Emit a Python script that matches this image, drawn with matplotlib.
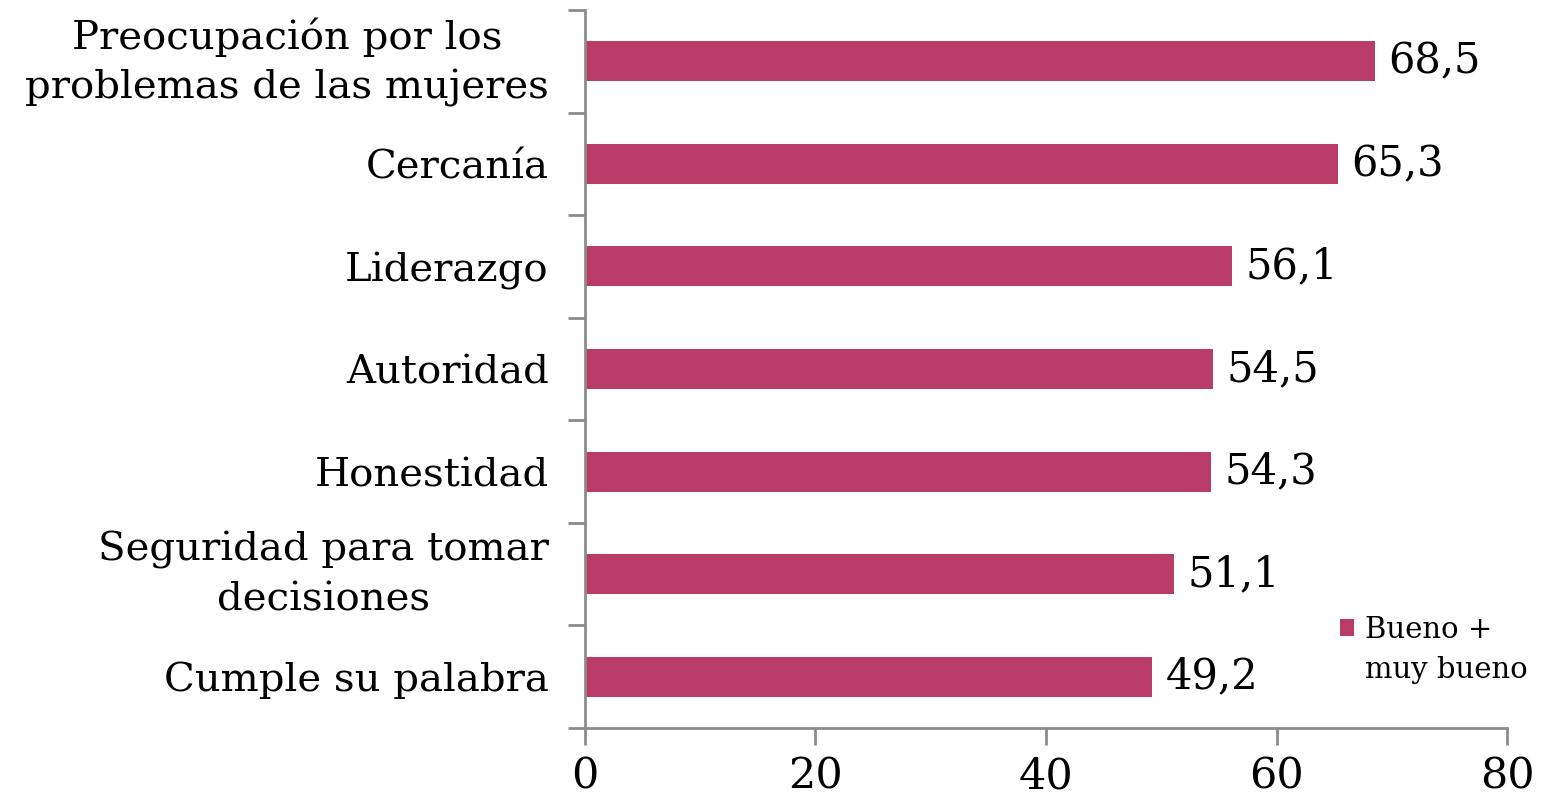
import matplotlib.pyplot as plt
import numpy as np
from matplotlib.patches import Rectangle
from matplotlib.container import BarContainer
from matplotlib.legend_handler import HandlerPatch, update_from_first_child
from matplotlib.transforms import ScaledTranslation

categorias = [
    "Preocupación por los\nproblemas de las mujeres",
    "Cercanía",
    "Liderazgo",
    "Autoridad",
    "Honestidad",
    "Seguridad para tomar\ndecisiones",
    "Cumple su palabra",
]
valores = [68.5, 65.3, 56.1, 54.5, 54.3, 51.1, 49.2]
serie = "Bueno +\nmuy bueno"

COLOR = "#B83C67"
GRIS = "#8C8C8C"

plt.rcParams["font.family"] = ["DejaVu Serif"]

fig = plt.figure(figsize=(15.54, 7.96), dpi=100)
ax = fig.add_axes([0.3764, 0.0854, 0.5934, 0.902])

pos = np.arange(len(categorias))[::-1]
bars = ax.barh(pos, valores, height=0.39, color=COLOR, label=serie)

for b, v in zip(bars, valores):
    ax.text(b.get_width() + 1.2, b.get_y() + b.get_height() / 2,
            f"{v:.1f}".replace(".", ","), va="center", ha="left", fontsize=30)

ax.set_xlim(0, 80)
ax.set_ylim(-0.5, len(categorias) - 0.5)
ax.set_xticks([0, 20, 40, 60, 80])
ax.tick_params(axis="x", labelsize=31, color=GRIS, length=12, width=2, pad=8)

# category labels centred on the bars, ticks on the boundaries
ax.set_yticks(pos)
ax.set_yticklabels(categorias, fontsize=29, linespacing=1.42)
ax.tick_params(axis="y", which="major", length=0, pad=26)
ax.set_yticks(np.arange(-0.5, len(categorias), 1), minor=True)
ax.tick_params(axis="y", which="minor", length=12, width=2, color=GRIS)

# two-line labels sit a little high, as in the original layout
subir = ScaledTranslation(0, 7 / 72, fig.dpi_scale_trans)
for lbl in ax.get_yticklabels():
    lbl.set_multialignment("center")
    if "\n" in lbl.get_text():
        lbl.set_transform(lbl.get_transform() + subir)

for s in ["top", "right"]:
    ax.spines[s].set_visible(False)
for s in ["left", "bottom"]:
    ax.spines[s].set_color(GRIS)
    ax.spines[s].set_linewidth(2)


# legend marker sits next to the first line of the label
def marcador_arriba(legend, orig_handle, xdescent, ydescent, width, height, fontsize):
    return Rectangle((-xdescent, -ydescent + 0.8 * fontsize), width, height)


leg = ax.legend(loc="lower left", bbox_to_anchor=(0.806, 0.045), frameon=False,
                fontsize=21, handlelength=0.5, handleheight=0.55, handletextpad=0.35,
                borderaxespad=0,
                handler_map={BarContainer: HandlerPatch(patch_func=marcador_arriba,
                                                        update_func=update_from_first_child)})
for t in leg.get_texts():
    t.set_linespacing(1.55)

fig.savefig("out.png", dpi=100)
